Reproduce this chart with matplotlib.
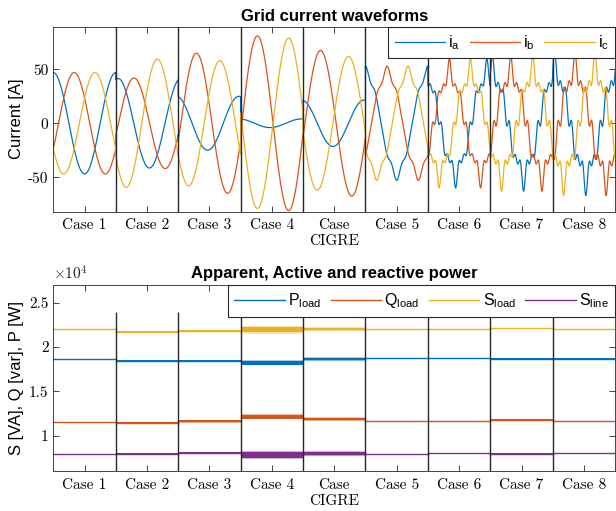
import numpy as np
import matplotlib
matplotlib.use('Agg')
import matplotlib.pyplot as plt
from matplotlib.ticker import FuncFormatter

plt.rcParams['axes.unicode_minus'] = False
plt.rcParams['mathtext.fontset'] = 'custom'
plt.rcParams['mathtext.rm'] = 'Liberation Sans'
plt.rcParams['mathtext.it'] = 'Liberation Sans:italic'

# ---- data ----
case_labels = ['Case 1', 'Case 2', 'Case 3', 'Case 4', 'Case\nCIGRE',
               'Case 5', 'Case 6', 'Case 7', 'Case 8']

# grid currents: fundamental amplitude [A], angle of peak [deg], harmonics [A]
amp_a = [47, 41.5, 25, 4, 21.5, 48, 46, 47, 49]
amp_b = [47, 42, 65, 81, 67.5, 48, 46, 47, 49]
amp_c = [47, 59.5, 58, 79, 62, 48, 46, 47, 49]
ang_a = [0, 14, 350, 350, 352, 0, 340, 12, 11]
ang_b = [120, 105, 105, 97, 101, 125, 124, 118, 128]
ang_c = [240, 240, 240, 277, 262, 245, 245, 245, 243]
harm5 = [0, 0, 0, 0, 0, 3, 4, 4, 5]
harm7 = [0, 0, 0, 0, 0, 2, 5, 6, 6]
harm11 = [0, 0, 0, 0, 0, 0, 5, 6, 7]

# powers: mean value and ripple half-width per case
p_load = [18680, 18460, 18420, 18230, 18650, 18760, 18760, 18680, 18680]
q_load = [11580, 11470, 11620, 12140, 11880, 11610, 11610, 11800, 11650]
s_load = [21990, 21730, 21800, 21920, 22030, 22030, 22030, 22140, 22030]
s_line = [7970, 7890, 8010, 7780, 7970, 7970, 8050, 7970, 8050]
rip_p = [0, 96, 130, 320, 190, 0, 30, 40, 30]
rip_q = [0, 73, 170, 320, 210, 0, 30, 40, 30]
rip_s = [0, 96, 130, 400, 210, 0, 30, 40, 30]
rip_sl = [0, 130, 113, 470, 280, 0, 30, 40, 30]

colors = ['#0072BD', '#D95319', '#EDB120', '#7E2F8E']
tick_font = dict(family='cmr10', size=11)


def phase_wave(amp, ang):
    xs, ys = [], []
    for k in range(len(case_labels)):
        th = np.linspace(0, 2 * np.pi, 300)
        a = th - np.deg2rad(ang[k])
        y = (amp[k] * np.cos(a) + harm5[k] * np.cos(5 * a)
             + harm7[k] * np.cos(7 * a) + harm11[k] * np.cos(11 * a))
        xs.append(k + th / (2 * np.pi))
        ys.append(y)
    return np.concatenate(xs), np.concatenate(ys)


def style_axes(ax):
    n = len(case_labels)
    ax.set_xlim(0, n)
    ax.set_xticks(np.arange(n) + 0.5)
    ax.set_xticklabels(case_labels, fontdict=tick_font)
    for t in ax.get_xticklabels():
        t.set_linespacing(1.2)
    ax.tick_params(direction='in', top=True, right=True, length=4, width=0.6,
                   color='#262626', labelsize=11)
    ax.tick_params(axis='x', pad=5)
    for s in ax.spines.values():
        s.set_linewidth(0.6)
        s.set_color('#262626')


fig = plt.figure(figsize=(6.16, 5.11), dpi=100)
ax1 = fig.add_axes([0.0866, 0.5857, 0.912, 0.362])
ax2 = fig.add_axes([0.0866, 0.0783, 0.912, 0.364])

# ---- top: grid currents ----
for amp, ang, col, lab in [(amp_a, ang_a, colors[0], r'$\mathrm{i_a}$'),
                           (amp_b, ang_b, colors[1], r'$\mathrm{i_b}$'),
                           (amp_c, ang_c, colors[2], r'$\mathrm{i_c}$')]:
    x, y = phase_wave(amp, ang)
    ax1.plot(x, y, color=col, lw=0.9, label=lab)
for k in range(1, len(case_labels)):
    ax1.axvline(k, color='#262626', lw=1)
ax1.set_ylim(-82, 89.5)
ax1.set_yticks([-50, 0, 50])
style_axes(ax1)
for t in ax1.get_yticklabels():
    t.set_fontfamily('cmr10')
ax1.set_ylabel('Current [A]', fontsize=12, family='Liberation Sans')
ax1.yaxis.set_label_coords(-0.052, 0.5)
ax1.set_title('Grid current waveforms', fontsize=12, fontweight='bold',
              family='Liberation Sans', pad=4)
leg1 = ax1.legend(loc='upper right', ncol=3, fontsize=11.5, frameon=True,
                  fancybox=False, framealpha=1, edgecolor='#262626',
                  borderaxespad=0, handlelength=3.15, handletextpad=0.2,
                  columnspacing=0.6, borderpad=0.4)
leg1.get_frame().set_linewidth(0.8)

# ---- bottom: powers ----
series = [(p_load, rip_p, colors[0], r'$\mathrm{P_{load}}$'),
          (q_load, rip_q, colors[1], r'$\mathrm{Q_{load}}$'),
          (s_load, rip_s, colors[2], r'$\mathrm{S_{load}}$'),
          (s_line, rip_sl, colors[3], r'$\mathrm{S_{line}}$')]
for vals, rip, col, lab in series:
    for k in range(len(case_labels)):
        c, r = vals[k], rip[k]
        if r > 0:
            ax2.fill_between([k, k + 1], c - r, c + r, color=col, alpha=0.35, lw=0)
            ax2.fill_between([k, k + 1], c - 0.7 * r, c + 0.7 * r, color=col, lw=0)
        ax2.plot([k, k + 1], [c, c], color=col, lw=1.0,
                 label=lab if k == 0 else None)
ax2.set_ylim(6000, 27000)
ax2.vlines(np.arange(1, len(case_labels)), 6000, 24000, color='#262626', lw=1)
ax2.set_yticks([10000, 15000, 20000, 25000])
ax2.yaxis.set_major_formatter(FuncFormatter(lambda v, p: '%g' % (v / 1e4)))
style_axes(ax2)
for t in ax2.get_yticklabels():
    t.set_fontfamily('cmr10')
ax2.set_ylabel('S [VA], Q [var], P [W]', fontsize=12, family='Liberation Sans')
ax2.yaxis.set_label_coords(-0.052, 0.5)
ax2.set_title('Apparent, Active and reactive power', fontsize=12,
              fontweight='bold', family='Liberation Sans', pad=5)
ax2.text(0.0, 1.01, r'$\times10^4$', transform=ax2.transAxes, fontsize=11,
         math_fontfamily='cm', ha='left', va='bottom', color='#262626')
leg2 = ax2.legend(loc='upper right', ncol=4, fontsize=11.5, frameon=True,
                  fancybox=False, framealpha=1, edgecolor='#262626',
                  borderaxespad=0, handlelength=3.15, handletextpad=0.2,
                  columnspacing=0.6, borderpad=0.4)
leg2.get_frame().set_linewidth(0.8)

fig.savefig('out.png', dpi=100)
